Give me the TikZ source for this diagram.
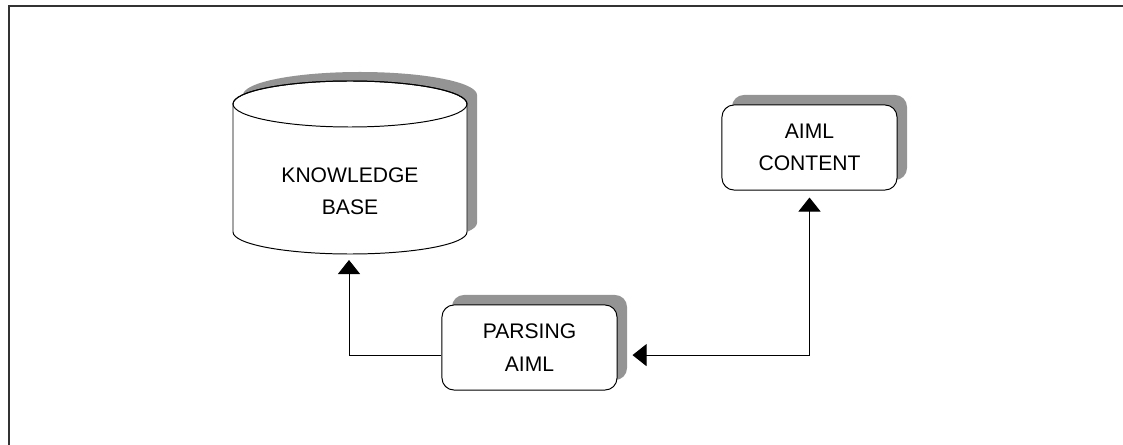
\documentclass[tikz,border=0pt]{standalone}
\usepackage{fontspec}
\setmainfont{Liberation Sans}
\usetikzlibrary{arrows.meta,shadows}

\begin{document}
\begin{tikzpicture}[x=0.025cm, y=0.025cm,
    >={Triangle[width=0.55cm, length=0.35cm]},
    every node/.style={font=\fontsize{15}{23}\selectfont, align=center},
    box/.style={draw, fill=white, line width=0.7pt, rounded corners=0.3cm,
                minimum width=4.375cm, minimum height=2.125cm,
                drop shadow={shadow xshift=0.25cm, shadow yshift=0.25cm,
                             fill=black!42, opacity=1}},
    link/.style={line width=0.7pt}]
  \useasboundingbox (0,0) rectangle (1123,-445);
  % frame, only top and left edges
  \draw[line width=1.4pt, black!80] (1123,-6) -- (9,-6) -- (9,-445);

  % knowledge base cylinder with its shadow
  \fill[black!42, shift={(10,9)}] (233,-104) -- (233,-232)
    arc[start angle=180, end angle=360, x radius=117, y radius=22]
    -- (467,-104) arc[start angle=0, end angle=180, x radius=117, y radius=23] -- cycle;
  \draw[line width=0.7pt, fill=white] (233,-104) -- (233,-232)
    arc[start angle=180, end angle=360, x radius=117, y radius=22]
    -- (467,-104) arc[start angle=0, end angle=180, x radius=117, y radius=23] -- cycle;
  \draw[line width=0.7pt] (350,-104) ellipse[x radius=117, y radius=23];
  \node (kb) at (350,-191) {KNOWLEDGE\\BASE};
  \coordinate (kbbot) at (349,-254);

  \node[box] (parse) at (529.5,-347.5) {PARSING\\AIML};
  \node[box] (content) at (809.5,-147.5) {AIML\\CONTENT};

  \draw[link, ->, shorten >=0.15cm] ([yshift=-0.19cm]parse.west) -| (kbbot);
  \draw[link, <->, shorten <=0.375cm, shorten >=0.175cm]
    ([yshift=-0.19cm]parse.east) -| (content.south);
\end{tikzpicture}
\end{document}
